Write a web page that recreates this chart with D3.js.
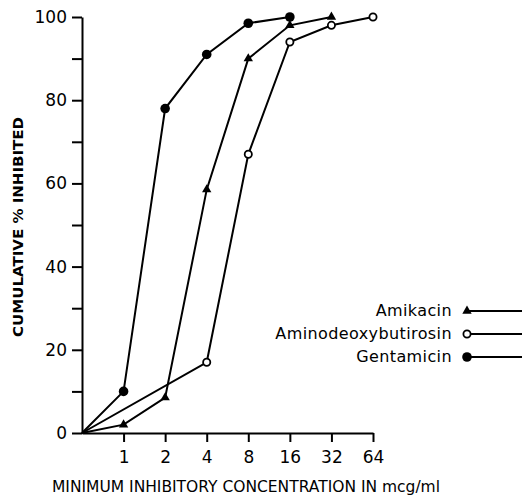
<!DOCTYPE html>
<html><head><meta charset="utf-8">
<script src="https://cdn.jsdelivr.net/npm/d3@7"></script>
<style>
body{margin:0;background:#fff;}
svg{display:block;}
</style></head>
<body>
<svg id="c" width="522" height="497"></svg>
<script>
const xCats = ["0","1","2","4","8","16","32","64"];
const xTickLabels = ["1","2","4","8","16","32","64"];
const yTicks = [0,10,20,30,40,50,60,70,80,90,100];
const yLabelTicks = [0,20,40,60,80,100];

const amikacinX = ["0","1","2","4","8","16","32"];
const amikacinY = [0,2,8.5,58.5,90,98,100];
const aminoX = ["0","4","8","16","32","64"];
const aminoY = [0,17,67,94,98,100];
const gentaX = ["0","1","2","4","8","16"];
const gentaY = [0,10,78,91,98.5,100];

const seriesNames = ["Amikacin","Aminodeoxybutirosin","Gentamicin"];
const seriesMarkers = ["triangle","open","filled"];

const svg = d3.select("#c");
const x = d3.scalePoint().domain(xCats).range([82,373]);
const y = d3.scaleLinear().domain([0,100]).range([433,17]);
const font = "'DejaVu Sans', sans-serif";

const yAxis = svg.append("g").attr("transform","translate(82,0)")
  .call(d3.axisLeft(y).tickValues(yTicks).tickSize(10).tickSizeOuter(0).tickPadding(5)
    .tickFormat(d => yLabelTicks.includes(d) ? d : ""));
const xAxis = svg.append("g").attr("transform","translate(0,433)")
  .call(d3.axisBottom(x).tickValues(xTickLabels).tickSize(9).tickSizeOuter(0).tickPadding(9));
[yAxis,xAxis].forEach(g=>{
  g.selectAll("path,line").attr("stroke","#000").attr("stroke-width",2);
  g.selectAll("text").attr("font-family",font).attr("font-size",17).attr("fill","#000");
});

const series = [
  {xs:amikacinX, ys:amikacinY, m:"triangle"},
  {xs:aminoX, ys:aminoY, m:"open"},
  {xs:gentaX, ys:gentaY, m:"filled"}
];
const line = d3.line().x(d=>x(d[0])).y(d=>y(d[1]));
function marker(g, type, cx, cy){
  if(type==="triangle"){
    g.append("path").attr("d", d3.symbol(d3.symbolTriangle, 38)())
      .attr("transform",`translate(${cx},${cy})`).attr("fill","#000");
  } else if(type==="open"){
    g.append("circle").attr("cx",cx).attr("cy",cy).attr("r",3.6)
      .attr("fill","#fff").attr("stroke","#000").attr("stroke-width",1.8);
  } else {
    g.append("circle").attr("cx",cx).attr("cy",cy).attr("r",4.8).attr("fill","#000");
  }
}
series.forEach(s=>{
  const pts = s.xs.map((v,i)=>[v,s.ys[i]]);
  svg.append("path").datum(pts).attr("d",line).attr("fill","none")
    .attr("stroke","#000").attr("stroke-width",2);
});
series.forEach(s=>{
  const g = svg.append("g");
  s.xs.forEach((v,i)=>{ if(i>0) marker(g, s.m, x(v), y(s.ys[i])); });
});

// legend
const legY = d3.scalePoint().domain(seriesNames).range([311,357]);
seriesNames.forEach((n,i)=>{
  const cy = legY(n);
  svg.append("text").attr("x",452).attr("y",cy+4.5).attr("text-anchor","end")
    .attr("font-family",font).attr("font-size",16).attr("letter-spacing",0.4).text(n);
  svg.append("line").attr("x1",467).attr("x2",522).attr("y1",cy).attr("y2",cy)
    .attr("stroke","#000").attr("stroke-width",2);
  marker(svg, seriesMarkers[i], 467, cy);
});

// titles
svg.append("text").attr("transform","translate(23,227) rotate(-90)")
  .attr("text-anchor","middle").attr("font-family",font).attr("font-size",14)
  .attr("font-weight","bold")
  .attr("textLength",220).attr("lengthAdjust","spacingAndGlyphs")
  .text("CUMULATIVE % INHIBITED");
svg.append("text").attr("x",246).attr("y",492)
  .attr("text-anchor","middle").attr("font-family",font).attr("font-size",16)
  .attr("textLength",388).attr("lengthAdjust","spacingAndGlyphs")
  .text("MINIMUM INHIBITORY CONCENTRATION IN mcg/ml");
</script>
</body></html>
